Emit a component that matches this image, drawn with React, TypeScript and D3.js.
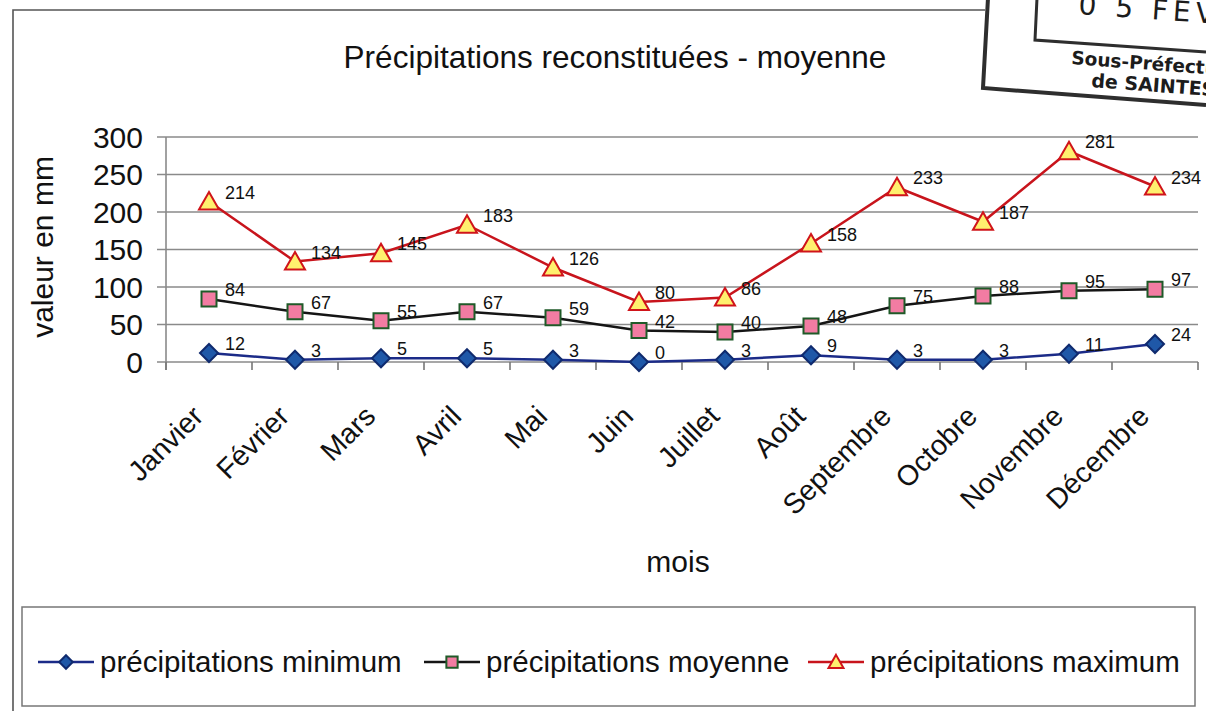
import { useMemo } from "react";
import * as d3 from "d3";

const MONTHS = [
  "Janvier", "Février", "Mars", "Avril", "Mai", "Juin",
  "Juillet", "Août", "Septembre", "Octobre", "Novembre", "Décembre",
];
const MIN_VALUES = [12, 3, 5, 5, 3, 0, 3, 9, 3, 3, 11, 24];
const MOY_VALUES = [84, 67, 55, 67, 59, 42, 40, 48, 75, 88, 95, 97];
const MAX_VALUES = [214, 134, 145, 183, 126, 80, 86, 158, 233, 187, 281, 234];
const Y_TICKS = [0, 50, 100, 150, 200, 250, 300];

const SERIES_LABELS = ["précipitations minimum", "précipitations moyenne", "précipitations maximum"];

const FONT = "'Liberation Sans', Arial, sans-serif";
const W = 1206;
const H = 711;
const margin = { top: 137, right: 8, bottom: 349, left: 166 };

type Marker = "diamond" | "square" | "triangle";

const STYLES: { line: string; fill: string; stroke: string; marker: Marker }[] = [
  { line: "#1b2b88", fill: "#1f58a8", stroke: "#0f2a6e", marker: "diamond" },
  { line: "#151515", fill: "#f27ca2", stroke: "#1f5a28", marker: "square" },
  { line: "#c8141c", fill: "#fff06e", stroke: "#d0141a", marker: "triangle" },
];

function markerPath(kind: Marker) {
  if (kind === "diamond") return "M0,-9L9,0L0,9L-9,0Z";
  if (kind === "square") return "M-7.5,-7.5H7.5V7.5H-7.5Z";
  return "M0,-9.5L10,8H-10Z";
}

function Dot({ x, y, i, k = 1 }: { x: number; y: number; i: number; k?: number }) {
  const s = STYLES[i];
  return (
    <path
      d={markerPath(s.marker)}
      transform={`translate(${x},${y}) scale(${k})`}
      fill={s.fill}
      stroke={s.stroke}
      strokeWidth={2 / k}
      strokeLinejoin="miter"
    />
  );
}

export default function App() {
  const series = [MIN_VALUES, MOY_VALUES, MAX_VALUES];

  const x = useMemo(
    () => d3.scaleBand<string>().domain(MONTHS).range([margin.left, W - margin.right]),
    []
  );
  const y = useMemo(
    () => d3.scaleLinear().domain([0, 300]).range([H - margin.bottom, margin.top]),
    []
  );
  const cx = (m: string) => (x(m) ?? 0) + x.bandwidth() / 2;
  const line = d3
    .line<number>()
    .x((_, i) => cx(MONTHS[i]))
    .y((d) => y(d));

  const x0 = margin.left;
  const x1 = W - margin.right;
  const yBase = y(0);
  const bounds = [...MONTHS.map((m) => x(m) ?? 0), x1];

  const legendX = [38, 424, 808];

  return (
    <svg
      width={W}
      height={H}
      style={{ position: "absolute", left: 0, top: 0, background: "#fff" }}
      fontFamily={FONT}
    >
      {/* outer frame */}
      <path d={`M13,${H}V10H985`} fill="none" stroke="#555" strokeWidth={1.6} />

      {/* stamp */}
      <g fill="none" stroke="#2e2e2e">
        <path d="M988,-2L983,88L1206,105" strokeWidth={4} />
        <path d="M1037,-2L1035,40L1206,52" strokeWidth={3} />
      </g>
      <g fill="#1c1c1c" fontWeight="bold" fontFamily="'DejaVu Sans', sans-serif">
        <text x={1078} y={14} fontSize={28} fontWeight="normal" letterSpacing={5} transform="rotate(4 1078 14)">0 5 FEV. 2</text>
        <text x={1071} y={64} fontSize={18.5} transform="rotate(4.3 1071 64)">Sous-Préfecture</text>
        <text x={1091} y={87} fontSize={19} transform="rotate(4.3 1091 87)">de SAINTES</text>
      </g>

      {/* title */}
      <text x={615} y={68} textAnchor="middle" fontSize={31.5} fill="#111">
        Précipitations reconstituées - moyenne
      </text>

      {/* grid + y ticks */}
      {Y_TICKS.map((t) => (
        <g key={t}>
          <line x1={x0 - 9} x2={x1} y1={y(t)} y2={y(t)} stroke="#8a8a8a" strokeWidth={1.6} />
          <text x={143} y={y(t)} dy="0.35em" textAnchor="end" fontSize={30} fill="#111">
            {t}
          </text>
        </g>
      ))}
      <line x1={x0} x2={x0} y1={margin.top} y2={yBase + 8} stroke="#8a8a8a" strokeWidth={1.6} />
      {bounds.map((b, i) => (
        <line key={i} x1={b} x2={b} y1={yBase} y2={yBase + 8} stroke="#777" strokeWidth={1.6} />
      ))}

      <text
        transform={`translate(53,247) rotate(-90)`}
        textAnchor="middle"
        fontSize={30}
        fill="#111"
      >
        valeur en mm
      </text>

      {/* x labels */}
      {MONTHS.map((m) => (
        <text
          key={m}
          transform={`translate(${cx(m) - 4},418) rotate(-45)`}
          textAnchor="end"
          fontSize={28.5}
          fill="#111"
        >
          {m}
        </text>
      ))}
      <text x={678} y={572} textAnchor="middle" fontSize={30} fill="#111">
        mois
      </text>

      {/* series */}
      {series.map((vals, si) => (
        <g key={si}>
          <path d={line(vals) ?? ""} fill="none" stroke={STYLES[si].line} strokeWidth={2.5} />
          {vals.map((v, i) => (
            <Dot key={i} x={cx(MONTHS[i])} y={y(v)} i={si} />
          ))}
          {vals.map((v, i) => (
            <text key={"l" + i} x={cx(MONTHS[i]) + 16} y={y(v) - 3} fontSize={18} fill="#111">
              {v}
            </text>
          ))}
        </g>
      ))}

      {/* legend */}
      <rect x={22} y={607} width={1173} height={99} fill="none" stroke="#777" strokeWidth={1.5} />
      {SERIES_LABELS.map((lab, i) => (
        <g key={lab}>
          <line
            x1={legendX[i]}
            x2={legendX[i] + 56}
            y1={662}
            y2={662}
            stroke={STYLES[i].line}
            strokeWidth={2.4}
          />
          <Dot x={legendX[i] + 28} y={662} i={i} k={0.75} />
          <text x={legendX[i] + 62} y={672} fontSize={29.5} fill="#111">
            {lab}
          </text>
        </g>
      ))}
    </svg>
  );
}
